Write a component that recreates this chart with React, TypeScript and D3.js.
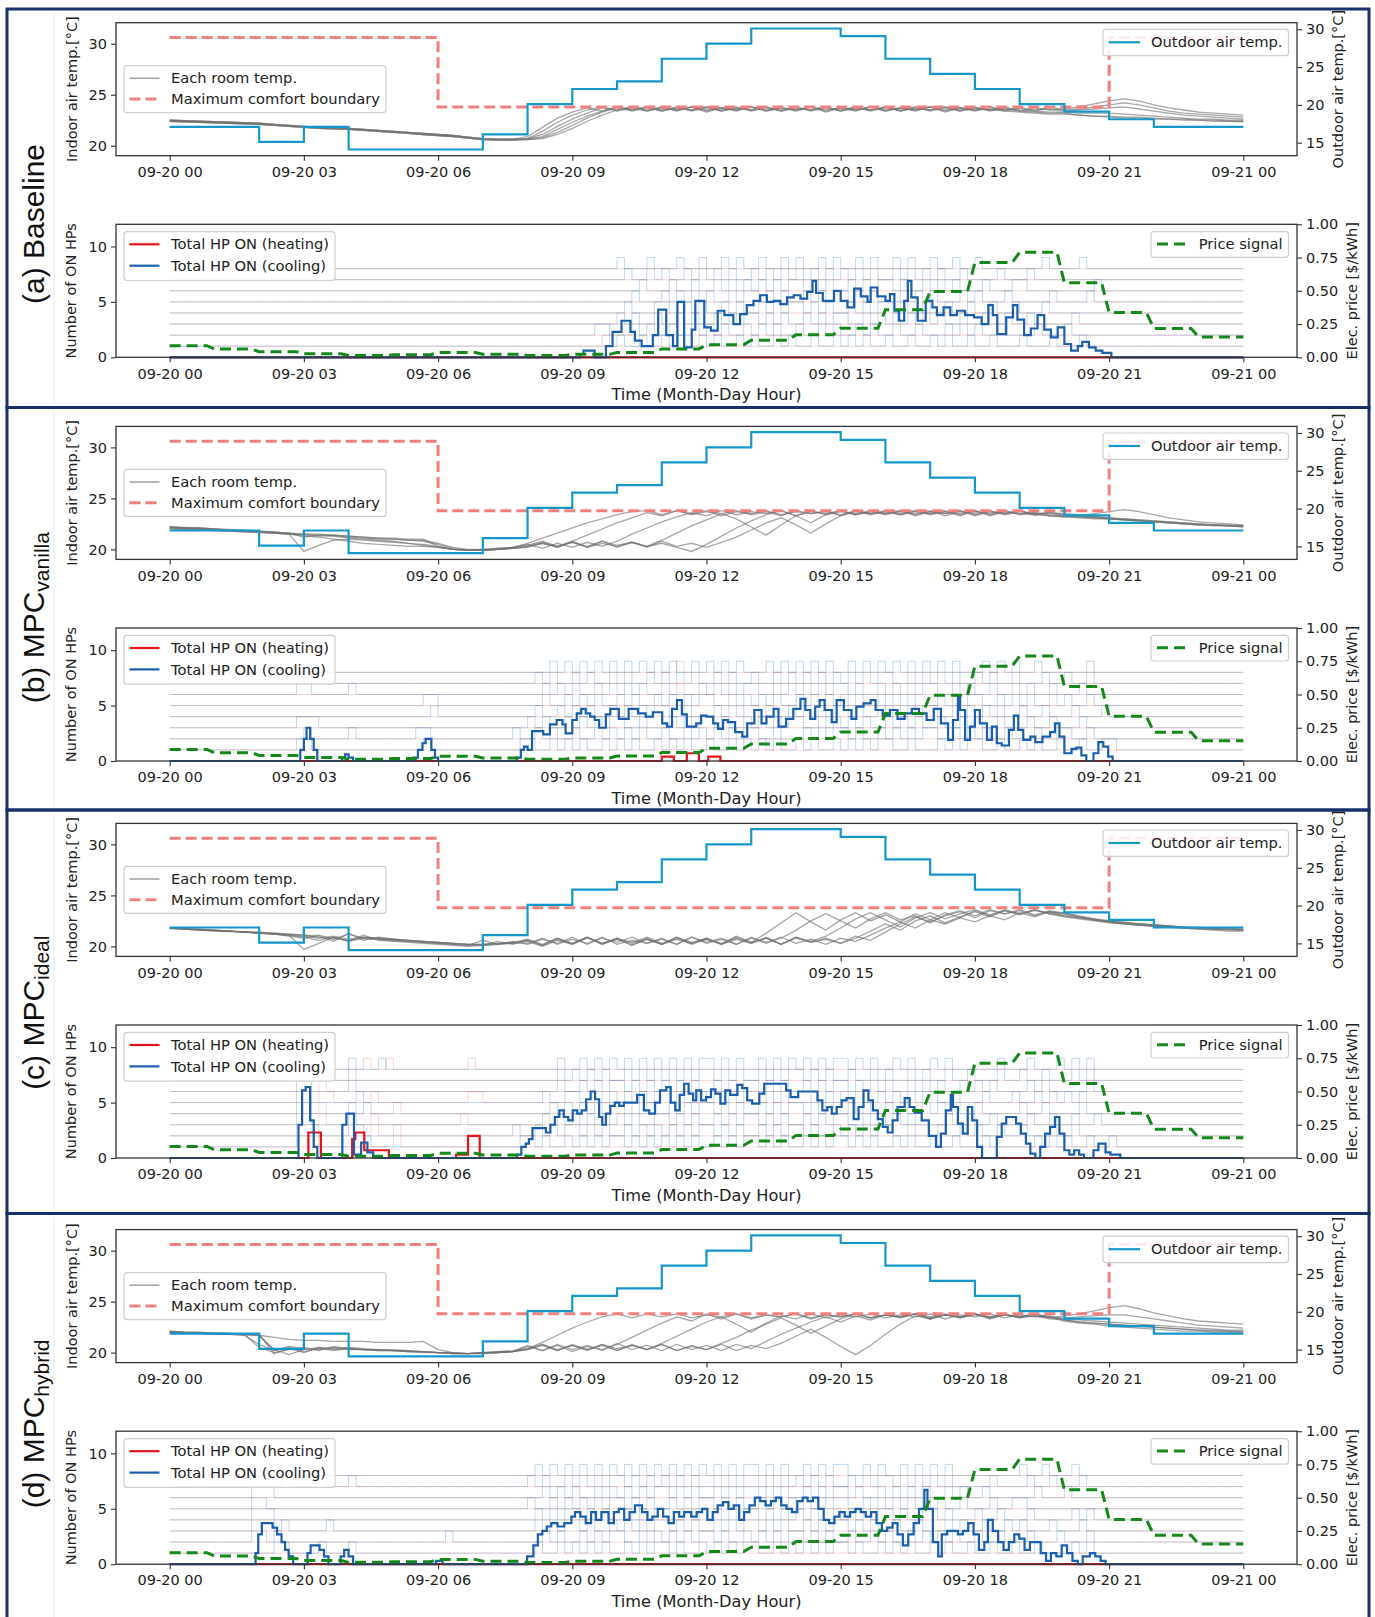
import React, { useRef, useEffect } from 'react';
import * as d3 from 'd3';

const FONT = 'DejaVu Sans, sans-serif';

// x axis: hours from 09-20 00
const hourTicks = [0, 3, 6, 9, 12, 15, 18, 21, 24];
const hourLabels = ['09-20 00', '09-20 03', '09-20 06', '09-20 09', '09-20 12', '09-20 15', '09-20 18', '09-20 21', '09-21 00'];

// hourly outdoor temperature [°C] (right axis of the upper plots)
const outdoorTemp = [17.1, 17.1, 15.1, 17.1, 14.1, 14.1, 14.1, 16.1, 20.1, 22.1, 23.1, 26.1, 28.1, 30.1, 30.1, 29.1, 26.1, 24.1, 22.1, 20.1, 19.1, 18.1, 17.1, 17.1];
// maximum comfort boundary (step)
const comfortHours = [0, 6, 21, 24];
const comfortMax = [30.6, 23.8, 30.6, 30.6];
// hourly price signal [$/kWh]
const priceSignal = [0.087, 0.062, 0.042, 0.027, 0.014, 0.019, 0.036, 0.023, 0.013, 0.022, 0.037, 0.063, 0.095, 0.128, 0.17, 0.218, 0.358, 0.495, 0.712, 0.79, 0.56, 0.336, 0.217, 0.152];

// room temperatures, one value every 20 min (0..24 h)
const aMorningA = [22.5, 22.45, 22.4, 22.35, 22.3, 22.25, 22.2, 22.1, 22.0, 21.9, 21.8, 21.75, 21.7, 21.6, 21.5, 21.4, 21.3, 21.2, 21.1, 21.0, 20.85, 20.7, 20.65, 20.65];
const aMorningB = [22.4, 22.35, 22.3, 22.25, 22.2, 22.15, 22.1, 22.0, 21.9, 21.8, 21.7, 21.65, 21.6, 21.5, 21.4, 21.3, 21.2, 21.1, 21.0, 20.9, 20.75, 20.6, 20.55, 20.55];
const roomsA = [
  [...aMorningA, 20.9, 21.8, 22.7, 23.3, 23.7, 23.4, 23.8, 23.5, 23.8, 23.4, 23.7, 23.5, 23.8, 23.4, 23.7, 23.5, 23.8, 23.4, 23.7, 23.5, 23.8, 23.4, 23.7, 23.5, 23.8, 23.4, 23.7, 23.5, 23.8, 23.4, 23.7, 23.5, 23.8, 23.4, 23.7, 23.5, 23.6, 23.8, 24.1, 24.4, 24.6, 24.4, 24.0, 23.7, 23.5, 23.3, 23.2, 23.1, 23.0],
  [...aMorningB, 20.7, 21.4, 22.3, 23.0, 23.5, 23.8, 23.4, 23.7, 23.5, 23.8, 23.4, 23.8, 23.5, 23.7, 23.4, 23.8, 23.5, 23.7, 23.4, 23.8, 23.5, 23.7, 23.4, 23.8, 23.5, 23.7, 23.4, 23.8, 23.5, 23.7, 23.4, 23.8, 23.5, 23.7, 23.4, 23.8, 23.5, 23.6, 23.8, 24.0, 24.2, 24.0, 23.7, 23.4, 23.2, 23.1, 23.0, 22.9, 22.8],
  [...aMorningA, 20.7, 21.1, 21.9, 22.6, 23.2, 23.7, 23.5, 23.8, 23.4, 23.7, 23.5, 23.8, 23.3, 23.7, 23.5, 23.8, 23.4, 23.7, 23.5, 23.8, 23.3, 23.7, 23.5, 23.8, 23.4, 23.7, 23.5, 23.8, 23.3, 23.7, 23.5, 23.8, 23.4, 23.7, 23.5, 23.6, 23.4, 23.5, 23.6, 23.7, 23.8, 23.6, 23.4, 23.2, 23.0, 22.9, 22.8, 22.7, 22.6],
  [...aMorningB, 20.65, 20.9, 21.6, 22.3, 22.9, 23.4, 23.8, 23.4, 23.7, 23.5, 23.8, 23.4, 23.7, 23.5, 23.8, 23.4, 23.7, 23.5, 23.8, 23.4, 23.7, 23.5, 23.8, 23.4, 23.7, 23.5, 23.8, 23.4, 23.7, 23.5, 23.8, 23.4, 23.7, 23.5, 23.4, 23.3, 23.3, 23.2, 23.2, 23.2, 23.1, 23.0, 22.9, 22.8, 22.7, 22.6, 22.6, 22.5, 22.5],
  [...aMorningA, 20.6, 20.8, 21.3, 22.0, 22.7, 23.3, 23.7, 23.5, 23.8, 23.4, 23.7, 23.5, 23.8, 23.4, 23.7, 23.5, 23.8, 23.4, 23.7, 23.5, 23.8, 23.4, 23.7, 23.5, 23.8, 23.4, 23.7, 23.5, 23.8, 23.4, 23.7, 23.5, 23.6, 23.4, 23.3, 23.2, 23.2, 23.0, 22.9, 22.9, 22.8, 22.8, 22.7, 22.6, 22.6, 22.5, 22.5, 22.4, 22.4],
  [...aMorningB, 20.6, 20.7, 21.1, 21.7, 22.4, 23.0, 23.5, 23.8, 23.4, 23.7, 23.5, 23.8, 23.4, 23.7, 23.5, 23.8, 23.4, 23.7, 23.5, 23.8, 23.4, 23.7, 23.5, 23.8, 23.4, 23.7, 23.5, 23.8, 23.4, 23.7, 23.5, 23.6, 23.4, 23.3, 23.2, 23.1, 23.1, 23.0, 22.9, 22.8, 22.7, 22.7, 22.6, 22.6, 22.5, 22.5, 22.4, 22.4, 22.35],
];
const roomsB = [
  [22.2, 22.15, 22.1, 22.0, 21.95, 21.9, 21.8, 21.7, 21.6, 21.2, 21.4, 21.3, 21.1, 21.0, 20.9, 20.8, 20.6, 20.4, 20.2, 20.0, 19.9, 19.9, 20.0, 20.2, 20.6, 21.1, 21.6, 22.1, 22.6, 23.0, 23.4, 23.7, 23.8, 23.4, 23.8, 23.5, 23.8, 23.3, 23.7, 23.5, 23.8, 23.4, 23.7, 23.5, 23.8, 23.3, 23.7, 23.5, 23.8, 23.4, 23.7, 23.5, 23.8, 23.4, 23.7, 23.5, 23.8, 23.4, 23.6, 23.3, 23.2, 23.3, 23.5, 23.7, 23.9, 23.7, 23.4, 23.1, 22.9, 22.7, 22.6, 22.5, 22.4],
  [22.1, 22.05, 22.0, 21.9, 21.85, 21.8, 21.7, 21.6, 21.5, 19.8, 20.4, 20.9, 21.0, 20.9, 20.8, 20.7, 20.6, 20.5, 20.3, 20.0, 19.9, 19.9, 20.0, 20.1, 20.3, 20.7, 20.2, 20.8, 21.4, 22.0, 22.6, 23.1, 23.6, 23.3, 23.8, 23.4, 23.7, 23.5, 23.8, 23.4, 23.7, 23.3, 23.8, 23.5, 23.7, 23.4, 23.8, 23.5, 23.7, 23.4, 23.8, 23.5, 23.7, 23.3, 23.8, 23.4, 23.7, 23.5, 23.4, 23.3, 23.2, 23.1, 23.0, 23.0, 22.9, 22.8, 22.7, 22.6, 22.5, 22.4, 22.4, 22.3, 22.3],
  [22.2, 22.1, 22.05, 22.0, 21.9, 21.85, 21.8, 21.7, 21.6, 21.4, 21.3, 21.35, 21.2, 21.1, 21.0, 21.0, 20.9, 20.9, 20.6, 20.2, 20.0, 20.0, 20.1, 20.2, 20.5, 20.1, 20.6, 20.2, 20.7, 20.3, 20.8, 21.5, 22.1, 22.7, 23.2, 23.6, 23.3, 23.8, 23.4, 23.7, 23.5, 23.8, 23.3, 23.7, 23.5, 23.8, 23.4, 23.7, 23.5, 23.8, 23.4, 23.7, 23.5, 23.8, 23.3, 23.7, 23.5, 23.8, 23.4, 23.6, 23.4, 23.3, 23.2, 23.1, 23.0, 22.9, 22.8, 22.7, 22.6, 22.5, 22.4, 22.3, 22.3],
  [22.0, 21.95, 21.9, 21.85, 21.8, 21.7, 21.65, 21.6, 21.5, 21.3, 21.2, 21.0, 20.8, 20.6, 20.5, 20.4, 20.3, 20.3, 20.2, 20.0, 19.9, 20.0, 20.1, 20.2, 20.4, 20.8, 20.3, 20.7, 20.2, 20.8, 20.4, 20.7, 20.3, 20.9, 21.6, 22.3, 22.9, 23.5, 23.0, 22.2, 21.4, 22.4, 23.3, 23.8, 23.4, 23.7, 23.5, 23.8, 23.4, 23.7, 23.5, 23.8, 23.3, 23.7, 23.5, 23.8, 23.4, 23.7, 23.5, 23.6, 23.3, 23.2, 23.1, 23.0, 22.9, 22.8, 22.7, 22.6, 22.5, 22.4, 22.3, 22.3, 22.2],
  [22.1, 22.0, 21.95, 21.9, 21.8, 21.75, 21.7, 21.6, 21.5, 21.5, 21.4, 21.4, 21.3, 21.2, 21.1, 21.0, 20.9, 20.8, 20.5, 20.1, 19.9, 19.9, 20.0, 20.1, 20.3, 20.6, 20.2, 20.7, 20.3, 20.8, 20.2, 20.7, 20.3, 20.6, 20.2, 19.8, 20.5, 21.3, 22.1, 22.8, 23.4, 23.8, 23.3, 22.6, 23.4, 23.8, 23.4, 23.7, 23.5, 23.8, 23.3, 23.7, 23.5, 23.8, 23.4, 23.7, 23.5, 23.8, 23.4, 23.6, 23.5, 23.4, 23.2, 23.1, 23.0, 22.9, 22.8, 22.7, 22.6, 22.5, 22.4, 22.4, 22.3],
  [22.2, 22.1, 22.1, 22.0, 21.9, 21.8, 21.75, 21.7, 21.6, 21.5, 21.5, 21.4, 21.3, 21.2, 21.1, 21.1, 21.0, 21.0, 20.3, 20.0, 19.9, 19.9, 20.0, 20.1, 20.2, 20.6, 20.3, 20.8, 20.2, 20.6, 20.3, 20.7, 20.2, 20.8, 20.3, 20.6, 20.2, 20.7, 21.2, 21.9, 22.6, 23.1, 22.4, 21.6, 22.5, 23.3, 23.8, 23.4, 23.7, 23.5, 23.8, 23.4, 23.7, 23.5, 23.8, 23.3, 23.7, 23.5, 23.6, 23.4, 23.3, 23.2, 23.1, 23.0, 22.9, 22.8, 22.7, 22.6, 22.5, 22.4, 22.4, 22.3, 22.2],
];
const roomsC = [
  [21.8, 21.75, 21.7, 21.6, 21.5, 21.4, 21.3, 21.2, 21.1, 19.7, 20.3, 20.9, 20.5, 21.1, 20.6, 20.5, 20.4, 20.3, 20.2, 20.1, 20.0, 20.1, 20.5, 20.2, 20.6, 20.1, 20.8, 20.2, 20.9, 20.3, 20.8, 20.1, 20.7, 20.2, 20.9, 20.3, 20.8, 20.2, 21.0, 20.4, 21.3, 22.3, 23.3, 22.4, 21.6, 22.6, 23.3, 22.5, 23.1, 22.4, 23.2, 22.6, 23.3, 22.8, 23.5, 23.0, 23.6, 23.2, 23.5, 23.3, 23.2, 22.9, 22.7, 22.5, 22.4, 22.2, 22.1, 22.0, 21.9, 21.8, 21.7, 21.7, 21.6],
  [21.8, 21.7, 21.6, 21.55, 21.5, 21.4, 21.3, 21.2, 21.0, 20.8, 21.1, 20.7, 21.2, 20.8, 20.7, 20.6, 20.5, 20.4, 20.3, 20.2, 20.1, 20.6, 20.2, 20.5, 20.2, 20.7, 20.3, 20.9, 20.2, 20.8, 20.4, 20.9, 20.3, 20.7, 20.2, 20.9, 20.4, 20.8, 20.2, 20.9, 20.3, 20.8, 21.6, 22.5, 23.2, 22.5, 21.8, 22.7, 23.3, 22.6, 23.0, 22.3, 23.1, 23.5, 23.0, 23.6, 23.2, 23.5, 23.0, 23.4, 23.3, 23.0, 22.7, 22.5, 22.3, 22.2, 22.1, 22.0, 21.9, 21.8, 21.8, 21.7, 21.7],
  [21.8, 21.75, 21.7, 21.6, 21.5, 21.45, 21.4, 21.3, 21.2, 21.1, 21.0, 20.5, 21.3, 20.6, 20.9, 20.7, 20.6, 20.5, 20.4, 20.3, 20.2, 20.2, 20.3, 20.4, 20.7, 20.2, 20.8, 20.3, 20.9, 20.2, 20.7, 20.4, 20.9, 20.3, 20.8, 20.2, 20.7, 20.3, 20.9, 20.4, 20.8, 20.2, 20.9, 20.5, 21.0, 21.8, 22.7, 23.3, 22.6, 21.9, 22.8, 23.3, 22.7, 23.2, 23.6, 23.1, 23.5, 23.2, 23.6, 23.2, 23.0, 22.8, 22.6, 22.4, 22.3, 22.2, 22.1, 22.0, 21.9, 21.9, 21.8, 21.8, 21.7],
  [21.75, 21.7, 21.6, 21.5, 21.45, 21.4, 21.3, 21.2, 21.1, 21.0, 20.8, 21.0, 20.7, 20.9, 20.8, 20.7, 20.6, 20.5, 20.4, 20.3, 20.2, 20.1, 20.2, 20.3, 20.5, 20.0, 20.6, 20.2, 20.8, 20.3, 20.7, 20.1, 20.8, 20.2, 20.7, 20.3, 20.8, 20.2, 20.7, 20.3, 20.8, 20.2, 20.9, 20.4, 20.8, 20.3, 21.0, 20.6, 21.4, 22.2, 22.9, 22.4, 23.0, 23.4, 22.8, 23.5, 23.2, 23.6, 23.1, 23.5, 23.2, 22.9, 22.6, 22.4, 22.2, 22.1, 22.0, 21.9, 21.8, 21.7, 21.7, 21.6, 21.6],
  [21.8, 21.7, 21.65, 21.6, 21.5, 21.4, 21.35, 21.3, 21.2, 21.1, 20.9, 20.8, 20.6, 20.9, 20.8, 20.7, 20.6, 20.5, 20.4, 20.3, 20.2, 20.2, 20.3, 20.3, 20.6, 20.1, 20.7, 20.3, 20.9, 20.2, 20.8, 20.3, 20.7, 20.2, 20.9, 20.4, 20.7, 20.2, 20.8, 20.3, 20.9, 20.2, 20.8, 20.4, 20.7, 20.3, 20.8, 21.5, 22.2, 21.6, 22.5, 23.0, 22.3, 22.9, 23.4, 22.9, 23.5, 23.1, 23.6, 23.2, 22.9, 22.7, 22.5, 22.3, 22.2, 22.1, 22.0, 21.9, 21.8, 21.8, 21.7, 21.7, 21.6],
  [21.8, 21.7, 21.6, 21.55, 21.5, 21.4, 21.3, 21.2, 21.1, 20.9, 20.6, 20.9, 20.5, 20.8, 20.7, 20.6, 20.5, 20.4, 20.3, 20.2, 20.1, 20.1, 20.2, 20.4, 20.3, 20.8, 20.2, 20.7, 20.3, 20.9, 20.2, 20.6, 20.3, 20.8, 20.2, 20.9, 20.3, 20.7, 20.2, 20.8, 20.4, 20.9, 20.3, 20.7, 20.2, 20.8, 20.5, 21.1, 21.8, 22.4, 21.8, 22.6, 22.2, 22.8, 22.4, 23.0, 22.6, 23.3, 22.9, 23.4, 23.0, 22.8, 22.6, 22.4, 22.2, 22.1, 22.0, 21.9, 21.8, 21.7, 21.6, 21.5, 21.5],
];
const roomsD = [
  [22.0, 21.95, 21.9, 21.9, 21.85, 21.8, 20.5, 20.0, 20.3, 20.5, 20.2, 20.6, 20.4, 20.3, 20.3, 20.2, 20.2, 20.1, 20.0, 19.9, 19.9, 20.0, 20.1, 20.2, 20.4, 21.0, 21.7, 22.4, 23.0, 23.5, 23.8, 23.4, 23.8, 23.5, 23.8, 23.4, 23.7, 23.5, 23.8, 23.3, 23.7, 23.5, 23.8, 23.4, 23.7, 23.5, 23.8, 23.4, 23.7, 23.5, 23.8, 23.3, 23.7, 23.5, 23.8, 23.4, 23.7, 23.5, 23.8, 23.4, 23.6, 23.8, 24.1, 24.4, 24.6, 24.3, 23.9, 23.6, 23.3, 23.1, 23.0, 22.9, 22.8],
  [22.1, 22.0, 22.0, 21.9, 21.9, 21.8, 21.8, 19.9, 20.4, 20.0, 20.5, 20.3, 20.4, 20.3, 20.2, 20.2, 20.1, 20.1, 20.0, 20.0, 19.9, 20.0, 20.1, 20.1, 20.6, 20.2, 20.7, 20.1, 20.6, 20.3, 20.8, 21.5, 22.2, 22.9, 23.5, 23.1, 23.8, 23.3, 23.8, 23.4, 23.7, 23.5, 23.8, 23.3, 23.7, 23.5, 23.8, 23.4, 23.7, 23.5, 23.8, 23.4, 23.7, 23.5, 23.8, 23.3, 23.7, 23.5, 23.6, 23.4, 23.4, 23.5, 23.6, 23.7, 23.7, 23.5, 23.3, 23.1, 22.9, 22.7, 22.6, 22.5, 22.4],
  [22.0, 21.95, 21.9, 21.85, 21.8, 21.8, 21.7, 20.3, 19.8, 20.3, 20.5, 20.4, 20.5, 20.4, 20.3, 20.3, 20.2, 20.1, 20.0, 19.9, 19.9, 19.9, 20.0, 20.1, 20.3, 20.7, 20.2, 20.8, 20.3, 20.7, 20.2, 20.8, 20.3, 20.9, 21.6, 22.3, 23.0, 23.5, 22.8, 22.0, 22.9, 23.6, 23.3, 23.8, 23.4, 23.7, 23.5, 23.8, 23.4, 23.7, 23.5, 23.8, 23.3, 23.7, 23.5, 23.8, 23.4, 23.7, 23.5, 23.6, 23.3, 23.2, 23.1, 23.0, 22.9, 22.8, 22.7, 22.6, 22.5, 22.4, 22.3, 22.2, 22.2],
  [22.0, 21.95, 21.9, 21.85, 21.8, 21.75, 21.7, 21.5, 21.3, 21.2, 21.2, 21.1, 21.1, 21.1, 21.0, 21.0, 21.0, 21.1, 20.3, 20.0, 19.9, 20.0, 20.0, 20.1, 20.4, 20.8, 20.3, 20.7, 20.2, 20.8, 20.4, 20.7, 20.3, 20.8, 20.2, 20.7, 20.3, 20.9, 21.5, 22.2, 22.8, 23.4, 22.7, 21.9, 22.6, 23.3, 23.8, 23.4, 23.7, 23.5, 23.8, 23.3, 23.7, 23.5, 23.8, 23.4, 23.7, 23.5, 23.8, 23.5, 23.2, 23.0, 22.9, 22.8, 22.7, 22.6, 22.5, 22.4, 22.3, 22.2, 22.1, 22.1, 22.0],
  [22.1, 22.0, 21.95, 21.9, 21.85, 21.8, 21.7, 20.2, 20.6, 20.4, 20.3, 20.5, 20.3, 20.3, 20.2, 20.2, 20.1, 20.1, 20.0, 20.0, 19.9, 19.9, 20.0, 20.1, 20.3, 20.8, 20.2, 20.7, 20.3, 20.8, 20.2, 20.7, 20.3, 20.8, 20.2, 20.6, 20.3, 20.8, 20.2, 20.7, 20.4, 20.9, 21.6, 22.3, 21.5, 20.6, 19.8, 20.7, 21.8, 22.8, 23.6, 23.3, 23.8, 23.4, 23.7, 23.5, 23.8, 23.4, 23.7, 23.5, 23.1, 22.9, 22.8, 22.6, 22.5, 22.4, 22.3, 22.2, 22.1, 22.1, 22.0, 22.0, 22.0],
  [22.0, 21.9, 21.9, 21.8, 21.8, 21.7, 20.8, 20.2, 20.5, 20.1, 20.4, 20.2, 20.4, 20.3, 20.3, 20.2, 20.1, 20.0, 20.0, 19.9, 19.9, 20.0, 20.0, 20.1, 20.7, 20.2, 20.8, 20.3, 20.7, 20.2, 20.9, 20.3, 20.7, 20.2, 20.8, 20.3, 20.7, 20.2, 20.8, 20.4, 21.1, 21.8, 22.4, 23.0, 23.5, 23.0, 23.6, 23.2, 23.7, 23.4, 23.8, 23.5, 23.7, 23.4, 23.8, 23.5, 23.7, 23.4, 23.6, 23.3, 23.2, 23.0, 22.9, 22.8, 22.7, 22.6, 22.5, 22.4, 22.3, 22.2, 22.2, 22.1, 22.1],
];

// total HP ON, [hour, value] break points (step after)
const coolA: [number, number][] = [[0, 0], [9.17, 0.3], [9.25, 0.6], [9.5, 0], [9.75, 1.0], [9.9, 2.3], [10.1, 3.3], [10.3, 2.3], [10.4, 1.5], [10.55, 1.0], [10.8, 2.0], [10.92, 4.3], [11.1, 2.0], [11.25, 1.0], [11.35, 5.0], [11.5, 0.9], [11.67, 2.5], [11.75, 5.1], [11.95, 2.7], [12.1, 2.4], [12.25, 4.2], [12.4, 3.8], [12.6, 3.0], [12.75, 3.9], [12.9, 4.7], [13.05, 5.1], [13.2, 5.6], [13.35, 5.0], [13.5, 5.1], [13.65, 4.8], [13.8, 5.4], [13.95, 5.6], [14.1, 5.3], [14.25, 5.9], [14.37, 6.9], [14.45, 5.8], [14.6, 5.1], [14.85, 6.0], [15.0, 5.1], [15.15, 4.5], [15.3, 6.2], [15.45, 5.5], [15.6, 5.0], [15.67, 6.3], [15.82, 5.5], [16.0, 5.1], [16.1, 5.7], [16.2, 4.2], [16.3, 3.3], [16.42, 5.1], [16.5, 6.9], [16.58, 5.4], [16.72, 3.3], [16.9, 5.1], [17.05, 4.5], [17.15, 3.8], [17.3, 4.5], [17.45, 3.8], [17.6, 4.2], [17.78, 3.8], [17.98, 3.6], [18.15, 3.0], [18.3, 4.7], [18.4, 3.8], [18.5, 2.1], [18.7, 3.6], [18.85, 4.7], [18.95, 3.4], [19.1, 2.0], [19.25, 2.6], [19.4, 3.8], [19.55, 2.5], [19.7, 1.8], [19.85, 2.7], [20.0, 1.2], [20.15, 0.6], [20.3, 1.0], [20.4, 1.4], [20.55, 0.9], [20.7, 0.6], [20.85, 0.4], [21.05, 0], [24, 0]];
const coolB: [number, number][] = [[0, 0], [2.92, 1], [3.0, 2], [3.06, 3], [3.14, 2], [3.22, 1], [3.3, 0], [3.85, 0.3], [3.92, 0.6], [4.0, 0.3], [4.1, 0], [5.45, 0.3], [5.55, 1], [5.65, 1.6], [5.72, 2], [5.85, 1], [5.93, 0.3], [6.0, 0], [7.76, 0.3], [7.85, 1.0], [7.92, 1.3], [8.0, 1.0], [8.1, 2.7], [8.35, 2.4], [8.5, 3.3], [8.65, 3.7], [8.78, 3.3], [8.85, 2.5], [9.0, 3.7], [9.1, 4.3], [9.2, 4.7], [9.3, 4.3], [9.4, 4.0], [9.5, 3.7], [9.6, 3.0], [9.75, 4.2], [9.85, 4.7], [10.04, 3.8], [10.26, 4.7], [10.47, 4.3], [10.64, 4.0], [10.8, 4.4], [11.01, 3.4], [11.12, 3.1], [11.23, 4.7], [11.34, 5.5], [11.45, 4.2], [11.56, 3.1], [11.77, 3.4], [11.88, 4.1], [12.0, 4.0], [12.15, 3.4], [12.26, 2.9], [12.37, 3.7], [12.48, 3.5], [12.64, 2.6], [12.8, 2.2], [12.91, 3.4], [13.07, 4.6], [13.23, 3.4], [13.34, 4.0], [13.5, 4.7], [13.61, 3.1], [13.78, 3.8], [13.94, 4.7], [14.1, 5.6], [14.21, 4.6], [14.32, 3.8], [14.43, 4.9], [14.53, 5.5], [14.64, 4.6], [14.8, 3.5], [14.91, 5.5], [15.07, 4.6], [15.24, 3.8], [15.35, 4.9], [15.51, 5.2], [15.67, 5.5], [15.78, 4.6], [15.94, 4.1], [16.1, 4.6], [16.27, 3.8], [16.43, 4.3], [16.59, 4.7], [16.75, 4.3], [16.92, 3.7], [17.08, 4.7], [17.24, 3.4], [17.4, 1.9], [17.51, 3.7], [17.62, 5.9], [17.67, 4.6], [17.78, 1.9], [17.89, 3.1], [18.0, 4.6], [18.11, 3.4], [18.27, 1.9], [18.38, 3.1], [18.49, 1.6], [18.6, 1.4], [18.76, 2.8], [18.87, 4.1], [18.97, 2.8], [19.08, 1.9], [19.24, 2.2], [19.35, 1.7], [19.51, 2.2], [19.68, 2.6], [19.79, 3.4], [19.89, 2.2], [20.0, 0.7], [20.16, 1.1], [20.27, 1.2], [20.38, 0.5], [20.49, 0], [20.65, 0.7], [20.76, 1.7], [20.87, 1.3], [20.98, 0.4], [21.08, 0], [24, 0]];
const coolC: [number, number][] = [[0, 0], [2.88, 3.0], [2.96, 6.1], [3.04, 6.4], [3.14, 3.4], [3.22, 1.0], [3.3, 0], [3.86, 3.0], [3.95, 4.0], [4.12, 0.3], [4.28, 1.4], [4.42, 0.5], [4.55, 0], [7.76, 0.3], [7.86, 1.0], [7.96, 1.3], [8.03, 1.7], [8.11, 2.7], [8.41, 2.3], [8.51, 3.0], [8.61, 3.7], [8.71, 4.3], [8.81, 3.7], [8.91, 3.4], [9.01, 4.3], [9.11, 4.0], [9.21, 4.3], [9.31, 5.3], [9.41, 6.0], [9.51, 5.3], [9.6, 3.7], [9.67, 3.0], [9.75, 4.0], [9.85, 4.7], [9.95, 5.0], [10.05, 4.7], [10.15, 5.0], [10.45, 5.7], [10.6, 4.3], [10.72, 4.0], [10.85, 5.0], [10.96, 6.1], [11.1, 6.4], [11.2, 5.0], [11.3, 4.3], [11.4, 5.7], [11.5, 6.7], [11.6, 5.8], [11.7, 5.2], [11.77, 6.1], [11.88, 5.2], [11.99, 5.5], [12.1, 6.2], [12.2, 5.8], [12.31, 4.9], [12.42, 6.1], [12.53, 5.7], [12.69, 6.6], [12.8, 6.3], [12.91, 5.2], [13.02, 4.9], [13.18, 5.8], [13.29, 6.7], [13.78, 6.1], [13.88, 5.5], [14.05, 6.0], [14.48, 5.2], [14.59, 4.3], [14.7, 4.6], [14.8, 4.0], [14.91, 4.6], [15.02, 5.2], [15.13, 5.4], [15.29, 3.5], [15.4, 4.6], [15.51, 6.1], [15.62, 5.2], [15.72, 4.3], [15.83, 3.5], [15.94, 2.8], [16.05, 2.3], [16.16, 3.4], [16.27, 4.6], [16.43, 5.4], [16.54, 4.6], [16.65, 4.1], [16.81, 3.4], [16.97, 2.0], [17.13, 1.0], [17.24, 2.2], [17.35, 4.3], [17.46, 5.7], [17.51, 4.6], [17.62, 3.1], [17.73, 2.2], [17.84, 4.6], [17.94, 3.4], [18.05, 1.0], [18.16, 0], [18.49, 1.9], [18.6, 3.1], [18.7, 3.7], [18.92, 3.1], [19.03, 2.2], [19.14, 1.3], [19.24, 0.4], [19.35, 0], [19.46, 1.0], [19.57, 2.2], [19.68, 2.8], [19.79, 3.7], [19.89, 2.2], [20.0, 0.7], [20.11, 0.3], [20.22, 0.7], [20.33, 0.3], [20.44, 0], [20.65, 0.7], [20.76, 1.3], [20.92, 0.5], [21.03, 0.3], [21.25, 0], [24, 0]];
const coolD: [number, number][] = [[0, 0], [1.92, 1.0], [1.98, 2.7], [2.06, 3.7], [2.3, 3.3], [2.4, 2.7], [2.5, 2.0], [2.58, 1.3], [2.66, 0.7], [2.76, 0], [3.08, 1.0], [3.15, 1.7], [3.35, 1.3], [3.45, 0.7], [3.55, 0], [3.82, 0.7], [3.9, 1.3], [4.0, 0.7], [4.1, 0], [5.95, 0.3], [6.1, 0], [7.99, 0.7], [8.13, 1.7], [8.23, 2.7], [8.33, 3.0], [8.43, 3.4], [8.53, 3.7], [8.67, 3.4], [8.82, 3.7], [8.98, 4.3], [9.06, 4.7], [9.18, 4.3], [9.3, 3.7], [9.42, 4.7], [9.53, 4.0], [9.65, 4.7], [9.81, 3.7], [9.93, 4.7], [10.04, 5.0], [10.16, 4.0], [10.28, 4.7], [10.4, 5.3], [10.56, 4.7], [10.68, 4.0], [10.79, 4.3], [10.91, 5.0], [11.03, 4.3], [11.15, 3.7], [11.27, 4.7], [11.39, 4.3], [11.5, 4.7], [11.66, 4.3], [11.78, 4.7], [11.9, 5.0], [12.02, 4.0], [12.14, 4.7], [12.25, 5.3], [12.37, 5.6], [12.49, 5.0], [12.61, 5.3], [12.73, 4.0], [12.84, 4.7], [12.96, 5.3], [13.08, 6.0], [13.2, 5.7], [13.32, 5.3], [13.44, 5.7], [13.55, 6.0], [13.67, 5.3], [13.79, 5.0], [13.91, 4.7], [14.03, 5.7], [14.15, 6.0], [14.26, 5.7], [14.38, 6.0], [14.5, 5.0], [14.62, 4.0], [14.74, 3.7], [14.86, 4.3], [14.97, 4.7], [15.09, 4.3], [15.21, 4.7], [15.33, 5.0], [15.45, 4.7], [15.56, 4.3], [15.68, 4.7], [15.8, 3.7], [15.92, 3.0], [16.04, 3.3], [16.16, 3.7], [16.27, 2.7], [16.39, 1.7], [16.51, 2.7], [16.63, 3.7], [16.75, 5.0], [16.87, 6.7], [16.94, 5.0], [17.06, 2.0], [17.18, 0.7], [17.26, 2.7], [17.38, 3.0], [17.62, 2.7], [17.73, 3.0], [17.85, 3.7], [17.97, 2.7], [18.09, 1.3], [18.21, 2.0], [18.29, 4.0], [18.4, 3.0], [18.52, 2.0], [18.64, 1.3], [18.76, 2.0], [18.88, 2.7], [18.99, 2.3], [19.11, 1.3], [19.23, 2.0], [19.47, 1.0], [19.59, 0.3], [19.7, 1.0], [19.82, 0.7], [19.94, 1.7], [20.06, 1.0], [20.18, 0.3], [20.3, 0], [20.41, 0.7], [20.57, 1.0], [20.69, 0.7], [20.81, 0.3], [20.92, 0], [24, 0]];
const heatA: [number, number][] = [[0, 0], [24, 0]];
const heatB: [number, number][] = [[0, 0], [11.0, 0.4], [11.27, 0], [11.56, 0.7], [11.83, 0], [12.04, 0.4], [12.31, 0], [24, 0]];
const heatC: [number, number][] = [[0, 0], [3.1, 2.3], [3.38, 0], [4.08, 1.7], [4.15, 2.3], [4.35, 0.7], [4.9, 0], [6.4, 0.3], [6.67, 2.0], [6.93, 0], [24, 0]];
const heatD: [number, number][] = [[0, 0], [24, 0]];

// on/off state of each room (level 1..8), one char per 10 min, one group per hour
// '-' idle hour, 'c' cooling ON, 'h' heating ON
const statusA = [
  '- - - - - - - - - ....c. c..c.. c.c..c .c..c. c..c.c ..c..c .c.c.. c..c.. c.c..c ..c... c...c. ..c... - - -',
  '- - - - - - - - - ...cc. ..c.c. .c..c. c.c..c .c.c.. c..c.c ..c.c. .c..c. ..c.c. c..c.. ..c... c..... - - -',
  '- - - - - - - - - - c.c..c ..c.c. .c.c.c c.c.c. .c.c.c c..c.c .c.c.c .c..c. .c..c. .c.... .c.... - - -',
  '- - - - - - - - - - .c...c c..c.c ..c.c. .c.c.c c.c.c. .c.c.c c.c..c ..c..c ..c..c ...c.. - - - -',
  '- - - - - - - - - - ..c... c.c.c. c..c.c c.c.c. .c.c.c c.c.c. ..c.c. c...c. c...c. ....c. ...c.. - - -',
  '- - - - - - - - - - ...c.. .c..c. .c.c.c .c.c.c c.c.c. .c.c.c c.c..c .c.c.. .c...c c..... ....c. - - -',
  '- - - - - - - - - - .c..c. c..c.c .c.c.. c.c.c. c.c.c. c.c.c. .c.c.c .c..c. ...c.. .c.... - - - -',
  '- - - - - - - - - - c...c. ..c..c ..c.c. .c..c. c..c.c ..c.c. .c.c.. c..c.. c..... ...c.. ..c... - - -',
];
const statusB = [
  '- - .....c c..... - ....c. - .....c c..c.c .c..c. c.c..c .c.c.. c..c.c .c.c.. c.c..c .c.c.c c..c.. .c.c.c c..c.. c.c..c ..c..c c..... - -',
  '- - - c..... c..... ...cc. - ....c. .c.c.. c..c.c .c.c.. c..c.c .c.c.c c..c.. .c.c.c c.c..c .c.c.c c..c.c .c..c. ..c..c c..c.. - - -',
  '- - .....c cc.... - - - - c.c..c .c.c.c c..c.. .c.c.c c.c..c .c.c.c c..c.c .c.c.. c.c.c. .c..c. c..c.. .c..c. ..c... - - -',
  '- - - - - .....c - - .c..c. c.c..c .c.c.c c..c.. .c.c.c c.c..c .c.c.c c.c..c .c.c.c c..c.c .c.c.. c..c.. .c...c - - -',
  '- - - - - ....cc - - ..c..c .c.c.. c.c..c .c.c.c c..c.c .c.c.. c.c.c. c.c..c .c.c.. .c.c.c c..c.c .c..c. c..c.. - - -',
  '- - .....c c..... c..... - - - ..c.c. c..c.c .c.c.. c.h..c .c.c.c c..c.c .c.c.c c.c..c .c.c.c c..c.c ..c..c .c..c. ..c... - - -',
  '- - - c..... - - - - .c.c.. c.c..c .c..c. c.c.c. .c.c.. c..c.c .c.c.c .c.c.c c..c.c .c.c.. c.c..c ...c.. c..c.. - - -',
  '- - - - - - - - ...c.c .c.c.c .c.c.c .ch.c. c.c.c. ..c.c. c.c.c. .c.c.c .c.c.c .c.c.. .c.c.c ..c... ...c.. - - -',
];
const statusC = [
  '- - .....c cc.... ..c... h..... - .....c c.c..c .c.c.c c.c.c. c.c.c. .c.c.c c.c.c. .c.c.c c.c.c. .c.c.. c..c.. .c.... ..c.c. c..c.. c..... - -',
  '- - .....c cc.... cc.h.. h..... - ....c. .c.c.c c.c.c. .c.c.c .c.c.c c.c.c. .c.c.c c.c..c .c.c.c c..c.. .c..c. c..c.. c...c. .c.... - - -',
  '- - .....c c.h... c..h.. - ...h.. - ..c.c. c.c.c. c.c..c c.c.c. .c.c.c c.c.c. .c.c.c c..c.c .c.c.. ..c..c ..c... .c..c. .c..c. - - -',
  '- - .....c c.h... c.c... h..... - - ...c.c .c.c.c c.c.c. .c.c.c c.c.c. .c.c.c c.c.c. .c.c.. c.c..c .c.c.. c..... c..c.. ..c... - - -',
  '- - .....c c.hh.. .c.h.. - ....hh - ..c..c c..c.c .c.c.c c.c..c .c.c.c c.c.c. ..c.c. c.c..c .c.c.c c..c.. .c...c ..c.c. c.c... - - -',
  '- - .....c c.h... c..... - - - ....c. .c.c.c c.c.c. c.c.c. .c.c.c c.c.c. .c.c.c c.c.c. c..c.c .c..c. c.c... .c.c.. ...c.. - - -',
  '- - - cc.... c..... - - - ....c. c.c.c. .c.c.c .c.c.c c.c.c. .c.c.c c.c.c. .c..c. c..c.c ..c..c ...c.. c..c.. .c.c.. - - -',
  '- - - - c.h.ch - ....h. - ....c. .c.c.c .c.c.c .c.c.c c.c.c. .c.c.c .c.c.c c.c.c. .c.c.. c.c... ...c.. .c...c .c.c.. - - -',
];
const statusD = [
  '- - ..cc.. ..c... c..... - - - .c..c. c.c.c. .c.c.c c.c..c .c.c.c c..c.c .c.c.c c.c..c .c.c.. c.c..c ..c..c ..c... .c.c.. - - -',
  '- .....c c.c... - - - .c.... - ..c.c. .c.c.c c..c.c .c.c.c c.c..c .c.c.c c.c.c. .c..c. c..c.c .c.c.. c..c.. .c...c ...c.. - - -',
  '- .....c cc.c.. ...c.. - - - - .c.c.c c.c..c .c.c.c c.c.c. .c.c.c c.c.c. .c.c.c c.c.c. .c..c. ..c.c. .c..c. c...c. ..c... - - -',
  '- .....c cc.... - - - - - .c.c.c c.c.c. .c.c.c c..c.c .c.c.c c.c.c. c.c..c .c.c.c c.c..c c.c... c..c.. .c.... .c.c.. - - -',
  '- .....c c..... - - - - - c..c.c .c.c.c c.c.c. .c.c.c c.c.c. .c.c.c .c.c.c c..c.c .c.c.c .c..c. ..c..c c..... - - - -',
  '- .....c cc.... - - - - - ..c.c. c..c.c .c.c.c c.c.c. .c.c.c c.c.c. .c.c.c c.c..c .c.c.c ..c.c. .c.... ..c... c..... - - -',
  '- .....c cc.c.. ..c... c..... - - - c.c..c .c.c.c c.c.c. c.c.c. .c.c.c c.c.c. c.c.c. .c.c.c c.c.c. c.c... ..c... .c..c. ..c... - - -',
  '- - - - - - - - .c.c.c .c.c.c .c.c.c .c.c.c .c.c.c c.c.c. .c.c.c c..c.c ..c.c. c.c... - c..c.. .c.... - - -',
];

const panels = [
  { tag: '(a) Baseline', sub: '', rooms: roomsA, cool: coolA, heat: heatA, status: statusA },
  { tag: '(b) MPC', sub: 'vanilla', rooms: roomsB, cool: coolB, heat: heatB, status: statusB },
  { tag: '(c) MPC', sub: 'ideal', rooms: roomsC, cool: coolC, heat: heatC, status: statusC },
  { tag: '(d) MPC', sub: 'hybrid', rooms: roomsD, cool: coolD, heat: heatD, status: statusD },
];

const panelOffsets = [0, 403.7, 800.7, 1206.9];
const frameTops = [9, 407.5, 810, 1213.5, 1625];
const labelY = [224, 214, 212, 217];

const C_OUT = '#1597c9';
const C_COOL = '#1a5fad';
const C_HEAT = '#e3121b';
const C_PRICE = '#15881a';
const C_COMFORT = '#f08080';
const C_FRAME = '#15306b';
const LEG_FS = 14.7;

function parseStatus(s: string) {
  const full = s.split(' ').map(g => (g === '-' ? '......' : g)).join('');
  return full.padEnd(144, '.').slice(0, 144);
}

function styleAxis(sel: any) {
  sel.select('.domain').remove();
  sel.selectAll('line').attr('stroke', '#333').attr('stroke-width', 1.1);
  sel.selectAll('text').attr('font-family', FONT).attr('font-size', 14.5).attr('fill', '#222');
}

function addLegend(g: any, x0: number, y0: number, w: number, h: number, items: any[]) {
  g.append('rect')
    .attr('x', x0).attr('y', y0).attr('width', w).attr('height', h)
    .attr('rx', 3).attr('fill', '#fff').attr('fill-opacity', 0.85)
    .attr('stroke', '#cfcfcf').attr('stroke-width', 1.2);
  items.forEach(it => {
    g.append('line')
      .attr('x1', it.sx0).attr('x2', it.sx1).attr('y1', it.y).attr('y2', it.y)
      .attr('stroke', it.color).attr('stroke-width', it.width)
      .attr('stroke-opacity', it.opacity ?? 1)
      .attr('stroke-dasharray', it.dash ?? null);
    g.append('text')
      .attr('x', it.tx).attr('y', it.y).attr('dy', '0.35em')
      .attr('font-family', FONT).attr('font-size', LEG_FS).attr('fill', '#222')
      .text(it.label);
  });
}

function drawPanel(root: any, p: any, k: number) {
  const off = panelOffsets[k];
  const x = d3.scaleLinear().domain([-1.2, 25.2]).range([116, 1297]);
  const tTop = 22.7 + off, tBot = 155.7 + off;
  const hTop = 224.3 + off, hBot = 357.3 + off;
  const yIn = d3.scaleLinear().domain([19.02, 32.06]).range([tBot, tTop]);
  const yOut = d3.scaleLinear().domain([13.28, 30.87]).range([tBot, tTop]);
  const yHp = d3.scaleLinear().domain([0, 12]).range([hBot, hTop]);
  const yPr = d3.scaleLinear().domain([0, 1]).range([hBot, hTop]);

  // panel frame and label
  root.append('line').attr('x1', 54).attr('x2', 54).attr('y1', frameTops[k] + 3).attr('y2', frameTops[k + 1] - 3)
    .attr('stroke', '#ececec').attr('stroke-width', 1);
  root.append('rect')
    .attr('x', 7).attr('y', frameTops[k]).attr('width', 1362).attr('height', frameTops[k + 1] - frameTops[k])
    .attr('fill', 'none').attr('stroke', C_FRAME).attr('stroke-width', 3);
  const lab = root.append('text')
    .attr('transform', `translate(33,${labelY[k] + off}) rotate(-90)`)
    .attr('text-anchor', 'middle').attr('dominant-baseline', 'central')
    .attr('font-family', 'Liberation Sans, Arial, sans-serif').attr('font-size', 30).attr('fill', '#111');
  lab.append('tspan').text(p.tag);
  if (p.sub) lab.append('tspan').attr('dy', 8).attr('font-size', 21).text(p.sub);

  // ---------- upper plot: temperatures ----------
  const gT = root.append('g');
  const roomLine = d3.line<number>().x((d, i) => x(i / 3)).y(d => yIn(d));
  p.rooms.forEach((r: number[]) => {
    gT.append('path').attr('d', roomLine(r)).attr('fill', 'none')
      .attr('stroke', '#707070').attr('stroke-width', 1.3).attr('stroke-opacity', 0.62);
  });
  const comfortPts = comfortHours.map((h, i) => [h, comfortMax[i]] as [number, number]);
  gT.append('path')
    .attr('d', d3.line<[number, number]>().x(d => x(d[0])).y(d => yIn(d[1])).curve(d3.curveStepAfter)(comfortPts))
    .attr('fill', 'none').attr('stroke', C_COMFORT).attr('stroke-width', 3).attr('stroke-dasharray', '11,5');

  addLegend(gT, 124, 65.7 + off, 262, 47, [
    { sx0: 129.5, sx1: 159.5, tx: 171, y: 78.3 + off, color: '#7a7a7a', width: 1.5, opacity: 0.7, label: 'Each room temp.' },
    { sx0: 129.5, sx1: 159.5, tx: 171, y: 99 + off, color: C_COMFORT, width: 3, dash: '11,5', label: 'Maximum comfort boundary' },
  ]);

  const outPts = [...outdoorTemp.map((v, h) => [h, v] as [number, number]), [24, outdoorTemp[23]] as [number, number]];
  gT.append('path')
    .attr('d', d3.line<[number, number]>().x(d => x(d[0])).y(d => yOut(d[1])).curve(d3.curveStepAfter)(outPts))
    .attr('fill', 'none').attr('stroke', C_OUT).attr('stroke-width', 2.2);

  addLegend(gT, 1103, 29.3 + off, 185.5, 26.4, [
    { sx0: 1108.6, sx1: 1140, tx: 1151, y: 42.3 + off, color: C_OUT, width: 2.2, label: 'Outdoor air temp.' },
  ]);

  gT.append('rect').attr('x', 116).attr('y', tTop).attr('width', 1181).attr('height', tBot - tTop)
    .attr('fill', 'none').attr('stroke', '#333').attr('stroke-width', 1.3);

  styleAxis(gT.append('g').attr('transform', `translate(0,${tBot})`)
    .call(d3.axisBottom(x).tickValues(hourTicks).tickFormat((d, i) => hourLabels[i]).tickSize(5).tickPadding(6)));
  styleAxis(gT.append('g').attr('transform', 'translate(116,0)')
    .call(d3.axisLeft(yIn).tickValues([20, 25, 30]).tickSize(5).tickPadding(4)));
  styleAxis(gT.append('g').attr('transform', 'translate(1297,0)')
    .call(d3.axisRight(yOut).tickValues([15, 20, 25, 30]).tickSize(5).tickPadding(4)));

  gT.append('text').attr('transform', `translate(71.5,${(tTop + tBot) / 2}) rotate(-90)`)
    .attr('text-anchor', 'middle').attr('dominant-baseline', 'central')
    .attr('font-family', FONT).attr('font-size', 14.5).attr('fill', '#222').text('Indoor air temp.[°C]');
  gT.append('text').attr('transform', `translate(1338,${(tTop + tBot) / 2}) rotate(-90)`)
    .attr('text-anchor', 'middle').attr('dominant-baseline', 'central')
    .attr('font-family', FONT).attr('font-size', 14.5).attr('fill', '#222').text('Outdoor air temp.[°C]');

  // ---------- lower plot: heat pumps ----------
  const gH = root.append('g');
  const stepLine = d3.line<[number, number]>().x(d => x(d[0])).y(d => yHp(d[1])).curve(d3.curveStepAfter);
  p.status.forEach((s: string, r: number) => {
    const st = parseStatus(s);
    const level = r + 1;
    (['h', 'c'] as const).forEach(kind => {
      const pts: [number, number][] = [];
      for (let i = 0; i < 144; i++) pts.push([i / 6, level + (st[i] === kind ? 1 : 0)]);
      pts.push([24, level]);
      gH.append('path').attr('d', stepLine(pts)).attr('fill', 'none')
        .attr('stroke', kind === 'c' ? '#1f77b4' : '#ff2a2a')
        .attr('stroke-opacity', kind === 'c' ? 0.28 : 0.2).attr('stroke-width', 1);
    });
  });
  gH.append('path').attr('d', stepLine(p.heat)).attr('fill', 'none').attr('stroke', C_HEAT).attr('stroke-width', 2.2);
  gH.append('path').attr('d', stepLine(p.cool)).attr('fill', 'none').attr('stroke', C_COOL).attr('stroke-width', 2.2);

  addLegend(gH, 124, 231.7 + off, 211, 48.8, [
    { sx0: 129.5, sx1: 159.5, tx: 171, y: 244.3 + off, color: C_HEAT, width: 2.2, label: 'Total HP ON (heating)' },
    { sx0: 129.5, sx1: 159.5, tx: 171, y: 265.7 + off, color: C_COOL, width: 2.2, label: 'Total HP ON (cooling)' },
  ]);

  const pricePts: [number, number][] = [];
  priceSignal.forEach((v, h) => { pricePts.push([h, v]); pricePts.push([h + 5 / 6, v]); });
  pricePts.push([24, priceSignal[23]]);
  gH.append('path')
    .attr('d', d3.line<[number, number]>().x(d => x(d[0])).y(d => yPr(d[1]))(pricePts))
    .attr('fill', 'none').attr('stroke', C_PRICE).attr('stroke-width', 3).attr('stroke-dasharray', '11,6');

  addLegend(gH, 1151, 231.7 + off, 137.5, 25.6, [
    { sx0: 1157, sx1: 1186, tx: 1198.7, y: 244 + off, color: C_PRICE, width: 3, dash: '11,6', label: 'Price signal' },
  ]);

  gH.append('rect').attr('x', 116).attr('y', hTop).attr('width', 1181).attr('height', hBot - hTop)
    .attr('fill', 'none').attr('stroke', '#333').attr('stroke-width', 1.3);

  styleAxis(gH.append('g').attr('transform', `translate(0,${hBot})`)
    .call(d3.axisBottom(x).tickValues(hourTicks).tickFormat((d, i) => hourLabels[i]).tickSize(5).tickPadding(6)));
  styleAxis(gH.append('g').attr('transform', 'translate(116,0)')
    .call(d3.axisLeft(yHp).tickValues([0, 5, 10]).tickSize(5).tickPadding(4)));
  styleAxis(gH.append('g').attr('transform', 'translate(1297,0)')
    .call(d3.axisRight(yPr).tickValues([0, 0.25, 0.5, 0.75, 1]).tickFormat(d3.format('.2f')).tickSize(5).tickPadding(4)));

  gH.append('text').attr('transform', `translate(71,${(hTop + hBot) / 2}) rotate(-90)`)
    .attr('text-anchor', 'middle').attr('dominant-baseline', 'central')
    .attr('font-family', FONT).attr('font-size', 14.5).attr('fill', '#222').text('Number of ON HPs');
  gH.append('text').attr('transform', `translate(1352,${(hTop + hBot) / 2}) rotate(-90)`)
    .attr('text-anchor', 'middle').attr('dominant-baseline', 'central')
    .attr('font-family', FONT).attr('font-size', 14.5).attr('fill', '#222').text('Elec. price [$/kWh]');
  gH.append('text').attr('x', 706.5).attr('y', 394.3 + off).attr('dy', '0.35em')
    .attr('text-anchor', 'middle').attr('font-family', FONT).attr('font-size', 16.2).attr('fill', '#222')
    .text('Time (Month-Day Hour)');
}

const App: React.FC = () => {
  const svgRef = useRef<SVGSVGElement>(null);

  useEffect(() => {
    if (!svgRef.current) return;
    const svg = d3.select(svgRef.current);
    svg.selectAll('*').remove();
    svg.append('rect').attr('width', 1375).attr('height', 1617).attr('fill', '#fff');
    panels.forEach((p, k) => drawPanel(svg, p, k));
  }, []);

  return (
    <svg ref={svgRef} width={1375} height={1617}
      style={{ position: 'absolute', left: 0, top: 0, display: 'block' }} />
  );
};

export default App;
